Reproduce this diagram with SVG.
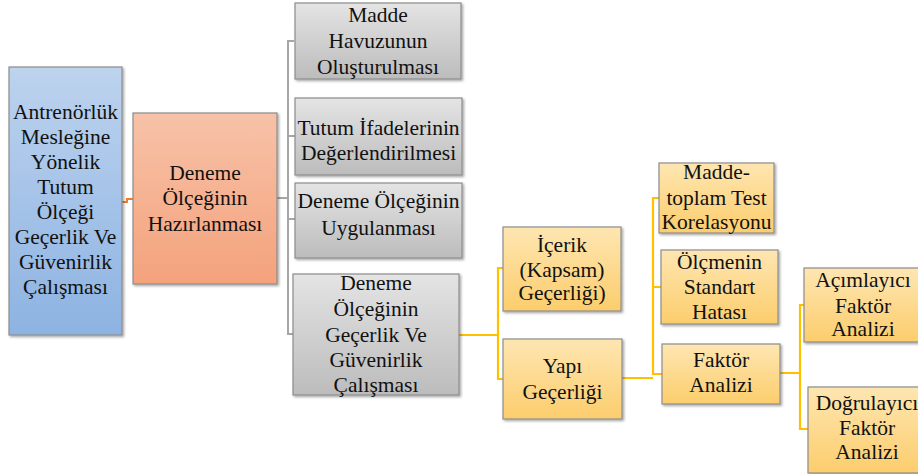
<svg xmlns="http://www.w3.org/2000/svg" width="918" height="474" viewBox="0 0 918 474">
<defs>
<linearGradient id="gBlue" x1="0" y1="0" x2="0" y2="1"><stop offset="0" stop-color="#bdd3ee"/><stop offset="1" stop-color="#8db3e2"/></linearGradient>
<linearGradient id="gSal" x1="0" y1="0" x2="0" y2="1"><stop offset="0" stop-color="#f7c2a8"/><stop offset="1" stop-color="#f4a27c"/></linearGradient>
<linearGradient id="gGray" x1="0" y1="0" x2="0" y2="1"><stop offset="0" stop-color="#e4e4e4"/><stop offset="1" stop-color="#bcbcbc"/></linearGradient>
<linearGradient id="gYel" x1="0" y1="0" x2="0" y2="1"><stop offset="0" stop-color="#fee6b2"/><stop offset="1" stop-color="#fccd6c"/></linearGradient>
<filter id="sh" x="-5%" y="-5%" width="115%" height="115%"><feDropShadow dx="1.5" dy="1.5" stdDeviation="0.8" flood-color="#000" flood-opacity="0.35"/></filter>
</defs>
<style>
.box{stroke:#8c8c8c;stroke-width:1.2;filter:url(#sh)}
.b{fill:url(#gBlue)}.s{fill:url(#gSal)}.g{fill:url(#gGray)}.y{fill:url(#gYel)}
.t{font-family:'Times New Roman','Liberation Serif',Tinos,'Noto Serif','DejaVu Serif',serif;font-size:21.5px;fill:#111;text-anchor:middle}
.cg{fill:none;stroke:#a6a6a6;stroke-width:2}
.cy{fill:none;stroke:#ffc000;stroke-width:2.2}
.co{fill:none;stroke:#ed7d31;stroke-width:2}
</style>
<g id="connectors">
<path class="co" d="M122,202 H127 V199 H133"/>
<path class="cg" d="M277,198 H288 M294,41 H288 V334 H294 M288,136 H295 M288,219 H295"/>
<path class="cy" d="M459,335 H498 M503,268 H498 V379 H503"/>
<path class="cy" d="M622,378 H653 M659,198 H653 V374 H662 M653,287 H661"/>
<path class="cy" d="M780,373 H800 M804,305 H800 V429 H808"/>
</g>
<g id="n1"><rect class="box b" x="9" y="67" width="113" height="268"/>
<text class="t"><tspan x="65.5" y="119">Antrenörlük</tspan><tspan x="65.5" y="144">Mesleğine</tspan><tspan x="65.5" y="169">Yönelik</tspan><tspan x="65.5" y="194">Tutum</tspan><tspan x="65.5" y="219">Ölçeği</tspan><tspan x="65.5" y="244">Geçerlik Ve</tspan><tspan x="65.5" y="269">Güvenirlik</tspan><tspan x="65.5" y="294">Çalışması</tspan></text></g>
<g id="n2"><rect class="box s" x="133" y="113" width="144" height="171"/>
<text class="t"><tspan x="205" y="180">Deneme</tspan><tspan x="205" y="205">Ölçeğinin</tspan><tspan x="205" y="231">Hazırlanması</tspan></text></g>
<g id="n3"><rect class="box g" x="295" y="3" width="166" height="76"/>
<text class="t"><tspan x="378" y="22">Madde</tspan><tspan x="378" y="48">Havuzunun</tspan><tspan x="378" y="74">Oluşturulması</tspan></text></g>
<g id="n4"><rect class="box g" x="295" y="98" width="167" height="77"/>
<text class="t"><tspan x="378.5" y="135">Tutum İfadelerinin</tspan><tspan x="378.5" y="160">Değerlendirilmesi</tspan></text></g>
<g id="n5"><rect class="box g" x="295" y="183" width="167" height="75"/>
<text class="t"><tspan x="378.5" y="208">Deneme Ölçeğinin</tspan><tspan x="378.5" y="235">Uygulanması</tspan></text></g>
<g id="n6"><rect class="box g" x="293" y="274" width="166" height="121"/>
<text class="t"><tspan x="376" y="290">Deneme</tspan><tspan x="376" y="316">Ölçeğinin</tspan><tspan x="376" y="342">Geçerlik Ve</tspan><tspan x="376" y="367">Güvenirlik</tspan><tspan x="376" y="392">Çalışması</tspan></text></g>
<g id="n7"><rect class="box y" x="503" y="227" width="118" height="84"/>
<text class="t"><tspan x="562" y="252">İçerik</tspan><tspan x="562" y="277">(Kapsam)</tspan><tspan x="562" y="300">Geçerliği)</tspan></text></g>
<g id="n8"><rect class="box y" x="503" y="339" width="119" height="80"/>
<text class="t"><tspan x="562.5" y="373">Yapı</tspan><tspan x="562.5" y="399">Geçerliği</tspan></text></g>
<g id="n9"><rect class="box y" x="659" y="163" width="115" height="70"/>
<text class="t"><tspan x="716.5" y="179">Madde-</tspan><tspan x="716.5" y="205">toplam Test</tspan><tspan x="716.5" y="229">Korelasyonu</tspan></text></g>
<g id="n10"><rect class="box y" x="661" y="250" width="117" height="74"/>
<text class="t"><tspan x="719.5" y="269">Ölçmenin</tspan><tspan x="719.5" y="294">Standart</tspan><tspan x="719.5" y="319">Hatası</tspan></text></g>
<g id="n11"><rect class="box y" x="662" y="344" width="118" height="60"/>
<text class="t"><tspan x="721" y="367">Faktör</tspan><tspan x="721" y="392">Analizi</tspan></text></g>
<g id="n12"><rect class="box y" x="804" y="268" width="118" height="74"/>
<text class="t"><tspan x="863" y="287">Açımlayıcı</tspan><tspan x="863" y="313">Faktör</tspan><tspan x="863" y="336">Analizi</tspan></text></g>
<g id="n13"><rect class="box y" x="808" y="387" width="118" height="86"/>
<text class="t"><tspan x="867" y="410">Doğrulayıcı</tspan><tspan x="867" y="435">Faktör</tspan><tspan x="867" y="459">Analizi</tspan></text></g>
</svg>
